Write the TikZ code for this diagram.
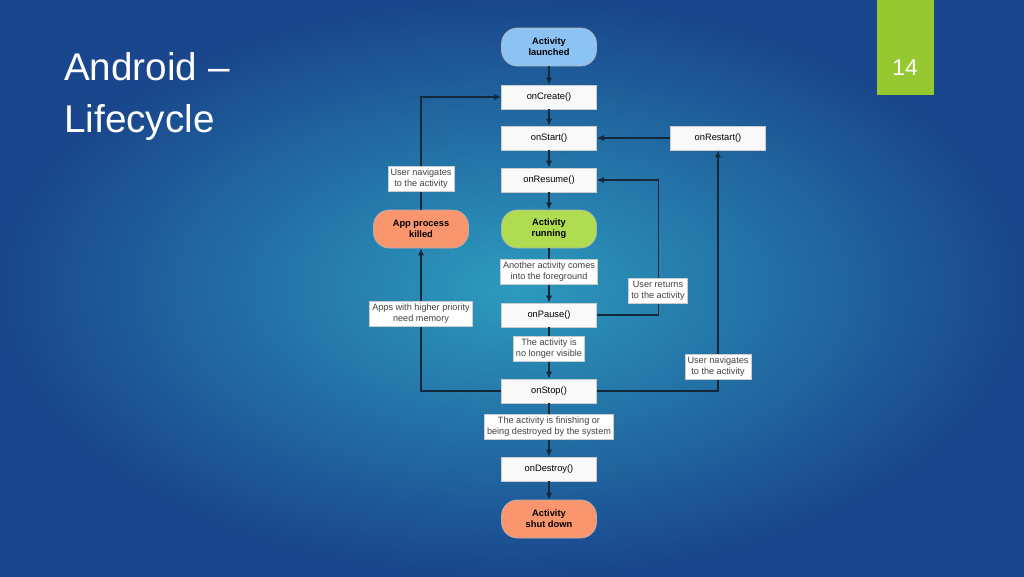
\documentclass[tikz,border=0pt]{standalone}
\usepackage{fontspec}
\setmainfont{Liberation Sans}
\usetikzlibrary{arrows.meta,positioning}
\definecolor{bgin}{RGB}{45,155,190}
\definecolor{bgout}{RGB}{25,70,140}
\definecolor{linec}{RGB}{20,40,60}
\definecolor{boxblue}{RGB}{140,195,245}
\definecolor{boxgreen}{RGB}{175,220,80}
\definecolor{boxorange}{RGB}{250,150,110}
\definecolor{tabgreen}{RGB}{150,200,50}
\tikzset{
  step box/.style={draw=gray!40,fill=gray!5,minimum width=95*0.02cm,minimum height=24*0.02cm,inner sep=0pt,font=\fontsize{5.3}{6.3}\selectfont},
  state box/.style={draw=gray!60,rounded corners=9pt,minimum width=95*0.02cm,minimum height=38*0.02cm,align=center,inner sep=0pt,font=\bfseries\fontsize{5.3}{6.3}\selectfont},
  note/.style={fill=white,draw=gray!40,align=center,inner sep=1.5pt,font=\fontsize{5.2}{6.2}\selectfont,text=black!75},
  flow/.style={linec,line width=0.6pt,-{Latex[length=4pt,width=3.5pt]}}
}
\begin{document}
\begin{tikzpicture}[x=0.02cm,y=-0.02cm]
\useasboundingbox (0,0) rectangle (1024,576);
\shade[inner color=bgin,outer color=bgout] (0,0) rectangle (1024,576);
\fill[tabgreen] (877,0) rectangle (934,95);
\node[text=white,font=\fontsize{13}{15}\selectfont] (num) at (905,68) {14};
\node[text=white,anchor=north west,align=left,font=\fontsize{22}{30}\selectfont] (title) at (58,46) {Android --\\Lifecycle};
% main column
\node[state box,fill=boxblue] (launched) at (549,47) {Activity\\launched};
\node[step box] (create) at (549,97) {onCreate()};
\node[step box] (start) at (549,138) {onStart()};
\node[step box] (resume) at (549,180) {onResume()};
\node[state box,fill=boxgreen] (running) at (549,229) {Activity\\running};
\node[step box] (pause) at (549,315) {onPause()};
\node[step box] (stop) at (549,391) {onStop()};
\node[step box] (destroy) at (549,469) {onDestroy()};
\node[state box,fill=boxorange] (shutdown) at (549,519) {Activity\\shut down};
\node[step box] (restart) at (718,138) {onRestart()};
\node[state box,fill=boxorange] (killed) at (421,229) {App process\\killed};
% connectors
\foreach \a/\b in {launched/create,create/start,start/resume,resume/running,running/pause,pause/stop,stop/destroy,destroy/shutdown}{
\draw[flow] (\a) -- (\b);
}
\draw[flow] (restart) -- (start);
\draw[flow] (stop.west) -| (killed.south);
\draw[flow] (killed.north) |- (create.west);
\draw[flow] (pause.east) -- ++(61.5,0) |- (resume.east);
\draw[flow] (stop.east) -| (restart.south);
% notes
\node[note] (fg) at (549,272) {Another activity comes\\into the foreground};
\node[note] (hidden) at (549,349) {The activity is\\no longer visible};
\node[note] (finish) at (549,427) {The activity is finishing or\\being destroyed by the system};
\node[note] (nav1) at (421,179) {User navigates\\to the activity};
\node[note] (memory) at (421,314) {Apps with higher priority\\need memory};
\node[note] (back) at (658,291) {User returns\\to the activity};
\node[note] (nav2) at (718,367) {User navigates\\to the activity};
\end{tikzpicture}
\end{document}
